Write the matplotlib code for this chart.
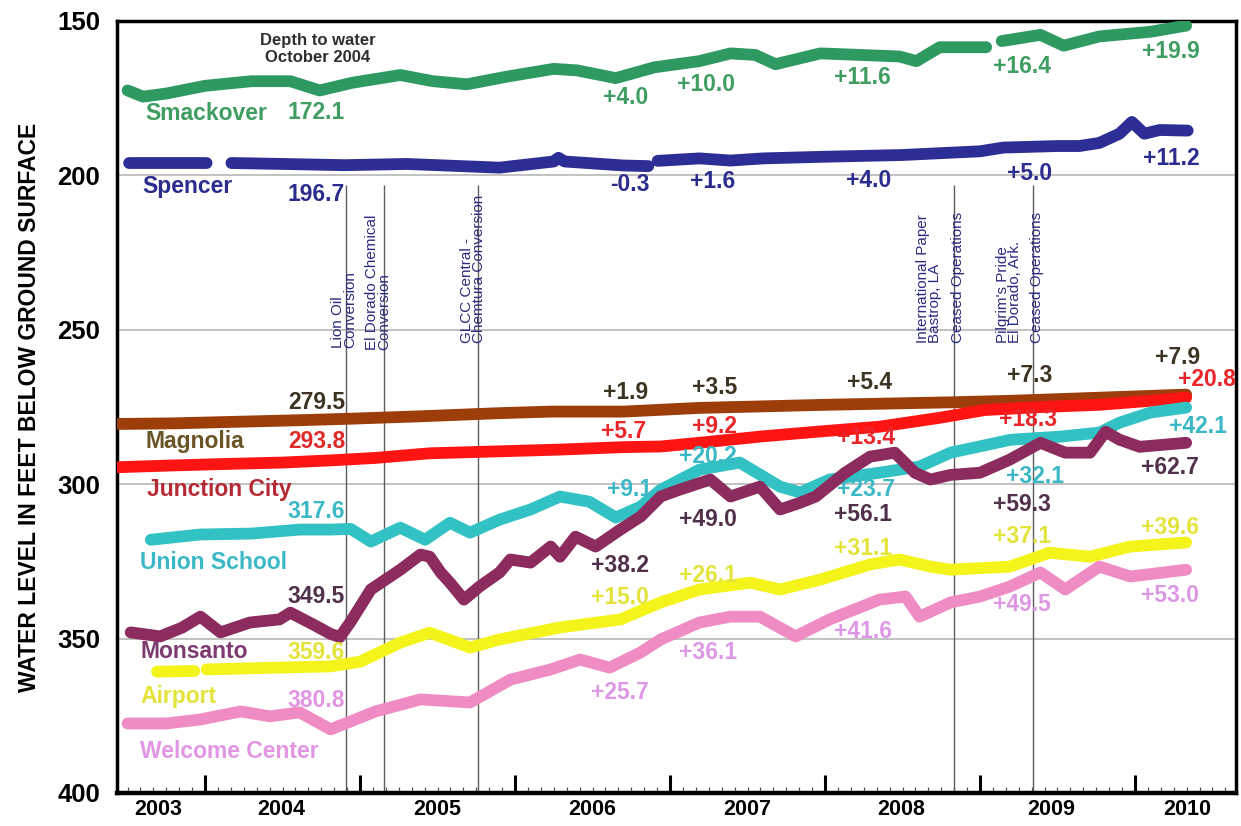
import numpy as np
import matplotlib
matplotlib.use('Agg')
import matplotlib.pyplot as plt
from matplotlib.ticker import MultipleLocator

plt.rcParams['font.family'] = ['Liberation Sans', 'DejaVu Sans']

nan = np.nan

# ---- water level data (feet below ground surface), decimal years ----
smack_yr = [2003.50, 2003.60, 2003.75, 2004.00, 2004.30, 2004.55, 2004.74, 2004.95,
            2005.26, 2005.47, 2005.69, 2005.95, 2006.25, 2006.40, 2006.65, 2006.90,
            2007.19, 2007.39, 2007.55, 2007.68, 2007.97, 2008.23, 2008.48, 2008.59,
            2008.74, 2009.04, 2009.09, 2009.14, 2009.39, 2009.54, 2009.77, 2010.10, 2010.33]
smack_ft = [172.5, 174.5, 173.5, 171.0, 169.5, 169.5, 172.5, 170.0,
            167.5, 169.5, 170.5, 168.0, 165.5, 166.0, 168.5, 165.0,
            163.0, 160.5, 161.0, 164.0, 160.5, 161.0, 161.5, 163.0,
            158.5, 158.5, nan, 156.5, 154.5, 158.0, 155.0, 153.5, 151.5]

spen_yr = [2003.51, 2004.01, 2004.09, 2004.17, 2004.50, 2004.90, 2005.30, 2005.90,
           2006.25, 2006.28, 2006.32, 2006.70, 2006.86, 2006.89, 2006.92, 2007.19,
           2007.39, 2007.60, 2007.97, 2008.50, 2009.00, 2009.15, 2009.50, 2009.64,
           2009.77, 2009.90, 2009.98, 2010.06, 2010.16, 2010.34]
spen_ft = [196.0, 196.0, nan, 196.0, 196.3, 196.7, 196.3, 197.5,
           195.5, 194.3, 195.5, 196.8, 197.0, nan, 195.3, 194.5,
           195.2, 194.5, 194.0, 193.4, 192.2, 191.0, 190.5, 190.5,
           189.5, 186.5, 182.7, 186.5, 185.3, 185.5]

magn_yr = [2003.44, 2003.80, 2004.20, 2004.60, 2004.94, 2005.40, 2005.90, 2006.23,
           2006.70, 2007.19, 2007.60, 2008.00, 2008.50, 2008.81, 2009.20, 2009.77, 2010.33]
magn_ft = [280.5, 280.3, 279.8, 279.3, 278.8, 278.0, 277.0, 276.5,
           276.5, 275.3, 274.8, 274.3, 273.8, 273.5, 273.0, 272.0, 271.0]

junc_yr = [2003.44, 2003.75, 2004.10, 2004.50, 2004.81, 2005.10, 2005.45, 2005.80,
           2006.29, 2006.70, 2006.94, 2007.19, 2007.60, 2008.00, 2008.35, 2008.74,
           2009.03, 2009.40, 2009.77, 2010.10, 2010.33]
junc_ft = [294.5, 294.0, 293.5, 293.0, 292.3, 291.5, 290.0, 289.5,
           288.8, 288.0, 287.8, 286.6, 284.5, 282.8, 281.4, 278.5,
           276.0, 275.0, 274.3, 273.0, 272.0]

union_yr = [2003.65, 2003.97, 2004.30, 2004.61, 2004.81, 2004.94, 2005.07, 2005.26,
            2005.42, 2005.58, 2005.71, 2005.90, 2006.10, 2006.29, 2006.48, 2006.65,
            2006.81, 2006.94, 2007.19, 2007.45, 2007.71, 2007.84, 2008.03, 2008.35,
            2008.61, 2008.81, 2009.20, 2009.52, 2009.77, 2009.90, 2010.10, 2010.33]
union_ft = [318.0, 316.3, 316.0, 314.7, 314.7, 314.5, 318.6, 314.1,
            318.0, 312.5, 315.7, 311.5, 308.2, 304.0, 305.7, 310.8,
            307.3, 301.8, 295.3, 293.0, 300.8, 302.7, 298.5, 296.3,
            294.3, 289.8, 285.6, 284.6, 283.3, 280.1, 276.8, 275.2]

mons_yr = [2003.52, 2003.71, 2003.85, 2003.97, 2004.10, 2004.29, 2004.48, 2004.55,
           2004.70, 2004.81, 2004.87, 2004.94, 2005.07, 2005.26, 2005.39, 2005.45,
           2005.52, 2005.58, 2005.67, 2005.77, 2005.90, 2005.97, 2006.10, 2006.23,
           2006.29, 2006.39, 2006.52, 2006.68, 2006.81, 2006.94, 2007.06, 2007.26,
           2007.39, 2007.58, 2007.71, 2007.84, 2007.94, 2008.13, 2008.29, 2008.45,
           2008.58, 2008.68, 2008.81, 2009.00, 2009.19, 2009.39, 2009.55, 2009.71,
           2009.81, 2009.90, 2010.03, 2010.33]
mons_ft = [348.0, 349.3, 346.5, 342.9, 348.0, 344.8, 343.8, 341.6,
           345.5, 348.5, 349.5, 344.5, 334.1, 327.7, 322.8, 323.5,
           328.6, 331.9, 337.4, 333.2, 328.6, 324.4, 325.4, 320.2,
           323.5, 317.0, 320.2, 314.7, 310.5, 304.0, 301.8, 298.5,
           304.0, 300.8, 308.2, 306.0, 304.0, 296.3, 291.1, 289.8,
           296.3, 298.5, 297.0, 296.3, 292.1, 286.6, 289.8, 289.8,
           283.0, 285.6, 287.9, 286.6]

air_yr = [2003.69, 2003.93, 2003.97, 2004.01, 2004.40, 2004.81, 2005.00, 2005.26,
          2005.45, 2005.71, 2005.90, 2006.29, 2006.68, 2006.94, 2007.19, 2007.52,
          2007.71, 2007.97, 2008.29, 2008.48, 2008.68, 2008.81, 2009.19, 2009.45,
          2009.71, 2009.97, 2010.33]
air_ft = [360.7, 360.5, nan, 360.0, 359.5, 359.0, 357.5, 351.3,
          348.1, 352.9, 350.3, 346.4, 343.8, 338.3, 334.1, 331.9,
          334.1, 330.9, 326.0, 324.4, 326.7, 327.7, 326.7, 322.2,
          323.5, 320.2, 318.9]

welc_yr = [2003.50, 2003.75, 2003.97, 2004.23, 2004.42, 2004.61, 2004.81, 2005.10,
           2005.39, 2005.71, 2005.97, 2006.23, 2006.42, 2006.61, 2006.81, 2006.94,
           2007.19, 2007.39, 2007.58, 2007.81, 2008.03, 2008.35, 2008.52, 2008.61,
           2008.81, 2009.00, 2009.19, 2009.39, 2009.55, 2009.77, 2009.97, 2010.33]
welc_ft = [377.5, 377.5, 376.2, 373.6, 375.2, 373.9, 379.4, 373.6,
           369.7, 370.7, 363.3, 360.0, 356.8, 359.4, 354.5, 350.3,
           344.8, 342.9, 342.9, 349.3, 343.8, 337.4, 336.4, 342.9,
           338.3, 336.4, 333.2, 328.6, 334.1, 326.7, 329.9, 327.7]

names = ['Smackover', 'Spencer', 'Magnolia', 'Junction City', 'Union School',
         'Monsanto', 'Airport', 'Welcome Center']
start_vals = ['172.1', '196.7', '279.5', '293.8', '317.6', '349.5', '359.6', '380.8']
# change since October 2004 at five dates
changes = [['+4.0', '+10.0', '+11.6', '+16.4', '+19.9'],
           ['-0.3', '+1.6', '+4.0', '+5.0', '+11.2'],
           ['+1.9', '+3.5', '+5.4', '+7.3', '+7.9'],
           ['+5.7', '+9.2', '+13.4', '+18.3', '+20.8'],
           ['+9.1', '+20.2', '+23.7', '+32.1', '+42.1'],
           ['+38.2', '+49.0', '+56.1', '+59.3', '+62.7'],
           ['+15.0', '+26.1', '+31.1', '+37.1', '+39.6'],
           ['+25.7', '+36.1', '+41.6', '+49.5', '+53.0']]

events = ['Lion Oil\nConversion', 'El Dorado Chemical\nConversion',
          'GLCC Central -\nChemtura Conversion',
          'International Paper\nBastrop, LA', 'Pilgrim\'s Pride\nEl Dorado, Ark.']
event_dates = [2004.91, 2005.155, 2005.76, 2008.832, 2009.342]
years = ['2003', '2004', '2005', '2006', '2007', '2008', '2009', '2010']

# ---- styling / layout ----
series = [(smack_yr, smack_ft), (spen_yr, spen_ft), (magn_yr, magn_ft), (junc_yr, junc_ft),
          (union_yr, union_ft), (mons_yr, mons_ft), (air_yr, air_ft), (welc_yr, welc_ft)]
line_cols = ['#2e9a62', '#2d2d96', '#9c3d0a', '#ff1414', '#33c2c4', '#8c2b5e',
             '#f4f41a', '#f08cc4']
name_cols = ['#3f9d62', '#2c2c8e', '#6a5426', '#b52a35', '#3ab8c6', '#7d3a70',
             '#e3e33a', '#e295e2']
val_cols = ['#3f9d62', '#2c2c8e', '#3d3322', '#e8262a', '#3ab8c6', '#50304a',
            '#e3e33a', '#dc98e4']
start_cols = ['#3f9d62', '#2c2c8e', '#3d3322', '#e02a2a', '#3ab8c6', '#50304a',
              '#e3e33a', '#e295e2']
name_pos = [(2003.613, 180.0), (2003.594, 203.6), (2003.613, 286.2), (2003.626, 301.8),
            (2003.581, 325.4), (2003.581, 354.3), (2003.581, 368.8), (2003.581, 386.6)]
start_pos = [179.6, 206.3, 273.6, 286.2, 308.9, 336.4, 354.5, 370.0]
chg_x = [[2006.716, 2007.232, 2008.239, 2009.271, 2010.232],
         [2006.742, 2007.277, 2008.284, 2009.323, 2010.232],
         [2006.716, 2007.290, 2008.290, 2009.323, 2010.277],
         [2006.703, 2007.290, 2008.265, 2009.310, 2010.465],
         [2006.742, 2007.245, 2008.265, 2009.355, 2010.406],
         [2006.677, 2007.245, 2008.245, 2009.271, 2010.226],
         [2006.677, 2007.245, 2008.245, 2009.271, 2010.226],
         [2006.677, 2007.245, 2008.245, 2009.271, 2010.226]]
chg_y = [[174.9, 170.7, 168.4, 164.6, 159.9],
         [203.1, 202.1, 201.5, 199.5, 194.6],
         [270.4, 268.8, 267.1, 264.9, 259.1],
         [283.0, 281.4, 284.9, 279.1, 266.2],
         [301.8, 291.1, 301.8, 297.6, 281.4],
         [326.4, 311.5, 309.9, 306.6, 294.7],
         [336.7, 329.6, 320.9, 317.0, 314.1],
         [367.5, 354.5, 347.8, 339.0, 336.1]]

fig = plt.figure(figsize=(12.41, 8.26), dpi=100)
ax = fig.add_axes([0.0943, 0.040, 0.9017, 0.9346])

lab_size = 16.5
for k in range(len(series)):
    yr, ft = series[k]
    ax.plot(yr, ft, color=line_cols[k], lw=8.5, solid_capstyle='round',
            solid_joinstyle='round', zorder=3)
    nx, ny = name_pos[k]
    ax.text(nx, ny, names[k], color=name_cols[k], fontsize=lab_size, fontweight='bold',
            ha='left', va='center', zorder=5)
    ax.text(2004.903, start_pos[k], start_vals[k], color=start_cols[k], fontsize=lab_size,
            fontweight='bold', ha='right', va='center', zorder=5)
    for j in range(5):
        ax.text(chg_x[k][j], chg_y[k][j], changes[k][j], color=val_cols[k],
                fontsize=lab_size, fontweight='bold', ha='center', va='center', zorder=5)

# plant conversions / closures
ax.vlines(event_dates, 203, 400, color='#5c5c5c', lw=1.0, zorder=2)
ev_x = [2004.898, 2005.116, 2005.729, 2008.671, 2009.187]
ev_y = [255.8, 256.5, 254.2, 254.2, 254.2]
for k in range(len(events)):
    ax.text(ev_x[k], ev_y[k], events[k], rotation=90, ha='center', va='bottom',
            multialignment='left', fontsize=11, linespacing=0.8, color='#2a2a80',
            zorder=4)
for xc in [2008.858, 2009.368]:
    ax.text(xc, 254.2, 'Ceased Operations', rotation=90, ha='center', va='bottom',
            fontsize=11, color='#2a2a80', zorder=4)

ax.text(2004.729, 159.1, 'Depth to water\nOctober 2004', ha='center', va='center',
        fontsize=12, fontweight='bold', color='#2e2e2e', linespacing=1.15)

# axes
ax.set_xlim(2003.432, 2010.652)
ax.set_ylim(400, 150)
ax.set_yticks([150, 200, 250, 300, 350, 400])
ax.yaxis.grid(True, color='#b8b8b8', lw=1.2, zorder=0)
ax.set_axisbelow(True)
ax.tick_params(axis='y', length=0, pad=12, labelsize=18.5)
for lab in ax.get_yticklabels():
    lab.set_fontweight('bold')
ax.set_ylabel('WATER LEVEL IN FEET BELOW GROUND SURFACE', fontsize=16.5,
              fontweight='bold', labelpad=12)

ax.set_xticks(np.arange(2004, 2011))
ax.xaxis.set_minor_locator(MultipleLocator(1.0 / 12))
ax.tick_params(axis='x', which='major', direction='in', length=13, width=2.2,
               labelbottom=False)
ax.tick_params(axis='x', which='minor', direction='in', length=4, width=0.9,
               color='#555555')
year_x = [2003.70, 2004.49, 2005.50, 2006.50, 2007.50, 2008.49, 2009.46, 2010.34]
for k in range(len(years)):
    ax.text(year_x[k], -0.022, years[k], transform=ax.get_xaxis_transform(),
            ha='center', va='center', fontsize=15.5, fontweight='bold')

for s in ax.spines.values():
    s.set_linewidth(2.5)
ax.spines['bottom'].set_linewidth(3.2)

fig.savefig('out.png', dpi=100)
